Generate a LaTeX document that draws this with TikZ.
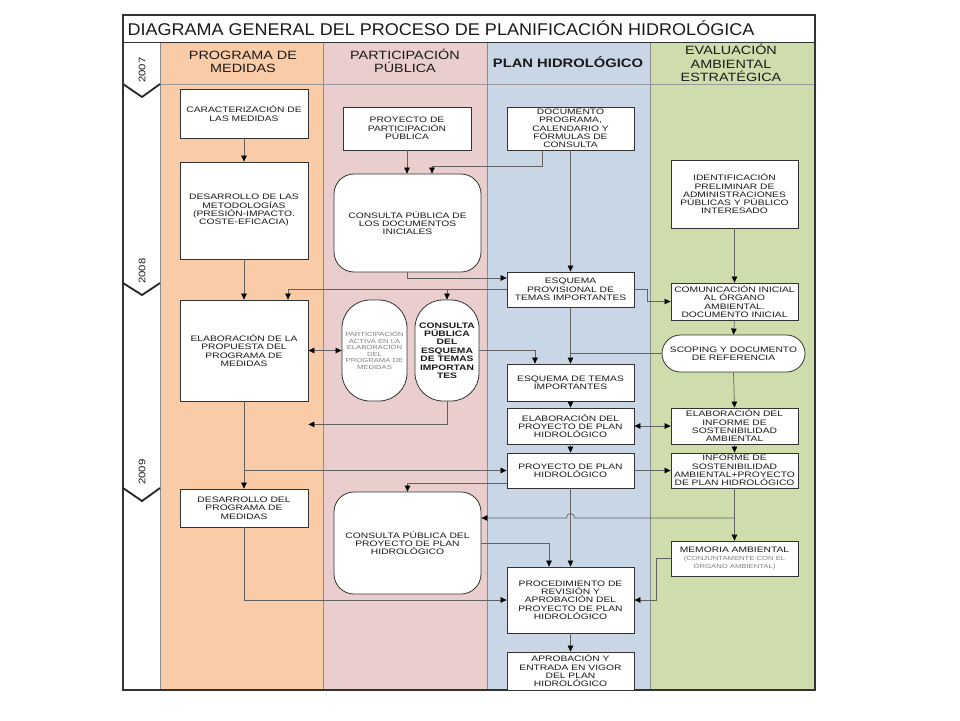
\documentclass[tikz,border=0pt]{standalone}
\usepackage{fontspec}
\setmainfont{Liberation Sans}
\newfontfamily\boxfont[FakeStretch=1.3]{Liberation Sans}
\newfontfamily\hdrfont[FakeStretch=1.2]{Liberation Sans}
\newfontfamily\ttlfont[FakeStretch=1.06]{Liberation Sans}
\usetikzlibrary{arrows.meta,calc}
\definecolor{cOr}{HTML}{F9CBA7}
\definecolor{cPk}{HTML}{EACECE}
\definecolor{cBl}{HTML}{C8D6E6}
\definecolor{cGr}{HTML}{CFDDAC}
\definecolor{cTx}{HTML}{1A1A1A}
\begin{document}
\begin{tikzpicture}[x=1pt,y=-1pt,
  box/.style={draw=black!80, fill=white, line width=0.8pt, align=center, text=cTx,
    font=\boxfont\fontsize{7.9}{8.3}\selectfont, inner sep=0pt},
  rbox/.style={box, rounded corners=20pt},
  can/.style={box, rounded corners=28pt},
  conn/.style={draw=black!62, line width=0.7pt},
  arr/.style={conn, -{Triangle[length=6pt,width=5.5pt,color=black]}},
  darr/.style={conn, {Triangle[length=6pt,width=5.5pt,color=black]}-{Triangle[length=6pt,width=5.5pt,color=black]}},
  hdr/.style={align=center, text=cTx, font=\hdrfont\fontsize{12}{13.5}\selectfont},
  yr/.style={rotate=90, text=cTx, font=\hdrfont\fontsize{9.5}{11}\selectfont},
  chev/.style={draw=black!85, line width=1.8pt}
]
\useasboundingbox (0,0) rectangle (960,720);
\fill[white] (0,0) rectangle (960,720);
% columns
\fill[cOr] (160,42) rectangle (323,690);
\fill[cPk] (323,42) rectangle (487,690);
\fill[cBl] (487,42) rectangle (650,690);
\fill[cGr] (650,42) rectangle (815,690);
\draw[black!45, line width=0.6pt] (160,42) -- (160,690) (323,42) -- (323,690) (487,42) -- (487,690) (650,42) -- (650,690);
\draw[black!40, line width=0.6pt] (160,84) -- (815,84);
\draw[black!80, line width=1pt] (123,42) -- (815,42);
\draw[black!80, line width=1.4pt] (123,15) rectangle (815,690);
% title and headers
\node[anchor=west, text=cTx, font=\ttlfont\fontsize{17}{20}\selectfont] (title) at (124,28.5) {DIAGRAMA GENERAL DEL PROCESO DE PLANIFICACIÓN HIDROLÓGICA};
\node[hdr] (h1) at (243,62) {PROGRAMA DE\\MEDIDAS};
\node[hdr] (h2) at (405,61) {PARTICIPACIÓN\\PÚBLICA};
\node[hdr, font=\hdrfont\bfseries\fontsize{12.3}{14.5}\selectfont] (h3) at (568,62) {PLAN HIDROLÓGICO};
\node[hdr] (h4) at (731,63) {EVALUACIÓN\\AMBIENTAL\\ESTRATÉGICA};
% years
\node[yr] (y7) at (142,70) {2007};
\node[yr] (y8) at (142,271) {2008};
\node[yr] (y9) at (142,472) {2009};
\draw[chev] (123,84) -- (142,97) -- (160,84);
\draw[chev] (123,283) -- (142,295) -- (160,283);
\draw[chev] (123,488) -- (142,501) -- (160,488);
% programa de medidas
\node[box, minimum width=128pt, minimum height=49pt] (car) at (244,113.5) {CARACTERIZACIÓN DE\\LAS MEDIDAS};
\node[box, minimum width=128pt, minimum height=97pt] (des) at (244,210.5) {DESARROLLO DE LAS\\METODOLOGÍAS\\(PRESIÓN-IMPACTO.\\COSTE-EFICACIA)};
\node[box, minimum width=128pt, minimum height=101pt] (ela) at (244,350.5) {ELABORACIÓN DE LA\\PROPUESTA DEL\\PROGRAMA DE\\MEDIDAS};
\node[box, minimum width=128pt, minimum height=38pt] (dpm) at (244,508) {DESARROLLO DEL\\PROGRAMA DE\\MEDIDAS};
% participacion publica
\node[box, minimum width=128pt, minimum height=43pt] (ppp) at (407,128.5) {PROYECTO DE\\PARTICIPACIÓN\\PÚBLICA};
\node[rbox, minimum width=147pt, minimum height=98pt] (cdi) at (407.5,223) {CONSULTA PÚBLICA DE\\LOS DOCUMENTOS\\INICIALES};
\node[can, minimum width=65pt, minimum height=101pt, text=black!50, font=\boxfont\fontsize{5.9}{6.6}\selectfont] (pa) at (374.5,350.5) {PARTICIPACIÓN\\ACTIVA EN LA\\ELABORACIÓN\\DEL\\PROGRAMA DE\\MEDIDAS};
\node[can, minimum width=64pt, minimum height=101pt, font=\boxfont\bfseries\fontsize{7.9}{8.4}\selectfont] (cesq) at (447,350.5) {CONSULTA\\PÚBLICA\\DEL\\ESQUEMA\\DE TEMAS\\IMPORTAN\\TES};
\node[rbox, minimum width=147pt, minimum height=102pt] (cpp) at (407.5,543) {CONSULTA PÚBLICA DEL\\PROYECTO DE PLAN\\HIDROLÓGICO};
% plan hidrologico
\node[box, minimum width=127pt, minimum height=43pt] (doc) at (570.5,128.5) {DOCUMENTO\\PROGRAMA,\\CALENDARIO Y\\FÓRMULAS DE\\CONSULTA};
\node[box, minimum width=127pt, minimum height=35pt] (epro) at (570.5,289.5) {ESQUEMA\\PROVISIONAL DE\\TEMAS IMPORTANTES};
\node[box, minimum width=127pt, minimum height=37pt] (etem) at (570.5,382.5) {ESQUEMA DE TEMAS\\IMPORTANTES};
\node[box, minimum width=127pt, minimum height=36pt] (elp) at (570.5,426) {ELABORACIÓN DEL\\PROYECTO DE PLAN\\HIDROLÓGICO};
\node[box, minimum width=127pt, minimum height=35pt] (pph) at (570.5,470.5) {PROYECTO DE PLAN\\HIDROLÓGICO};
\node[box, minimum width=127pt, minimum height=66pt] (proc) at (570.5,600) {PROCEDIMIENTO DE\\REVISIÓN Y\\APROBACIÓN DEL\\PROYECTO DE PLAN\\HIDROLÓGICO};
\node[box, minimum width=127pt, minimum height=38pt] (apr) at (570.5,671) {APROBACIÓN Y\\ENTRADA EN VIGOR\\DEL PLAN\\HIDROLÓGICO};
% evaluacion ambiental
\node[box, minimum width=127pt, minimum height=68pt] (ide) at (734.5,194) {IDENTIFICACIÓN\\PRELIMINAR DE\\ADMINISTRACIONES\\PÚBLICAS Y PÚBLICO\\INTERESADO};
\node[box, minimum width=127pt, minimum height=37pt] (com) at (734.5,301.5) {COMUNICACIÓN INICIAL\\AL ÓRGANO\\AMBIENTAL.\\DOCUMENTO INICIAL};
\node[box, rounded corners=18.5pt, minimum width=143pt, minimum height=37pt] (sco) at (733.5,353.5) {SCOPING Y DOCUMENTO\\DE REFERENCIA};
\node[box, minimum width=127pt, minimum height=36pt] (eis) at (734.5,426) {ELABORACIÓN DEL\\INFORME DE\\SOSTENIBILIDAD\\AMBIENTAL};
\node[box, minimum width=127pt, minimum height=35pt] (isp) at (734.5,470.5) {INFORME DE\\SOSTENIBILIDAD\\AMBIENTAL+PROYECTO\\DE PLAN HIDROLÓGICO};
\node[box, minimum width=127pt, minimum height=35pt] (mem) at (734.5,558.5) {MEMORIA AMBIENTAL\\[-1pt]{\color{black!50}\fontsize{5.9}{6.6}\selectfont (CONJUNTAMENTE CON EL}\\{\color{black!50}\fontsize{5.9}{6.6}\selectfont ÓRGANO AMBIENTAL)}};
% connectors: programa de medidas
\draw[arr] (car.south) -- (des.north);
\draw[arr] (des.south) -- (ela.north);
\draw[arr] (ela.south) -- (dpm.north);
\draw[arr] (ela.south |- pph.west) -- (pph.west);
\draw[arr] (dpm.south) |- (proc.west);
\draw[darr] (ela.east) -- (pa.west);
% participacion
\draw[arr] (ppp.south) -- (ppp.south |- cdi.north);
\draw[arr] ([xshift=-28.5pt]doc.south) -- ++(0,16) -| ([xshift=24.5pt]cdi.north);
\draw[arr] (cdi.south) |- ([yshift=11.5pt]epro.west);
\draw[arr] (epro.west) -| ([xshift=44pt]ela.north);
\draw[arr] (cesq.north |- epro.west) -- (cesq.north);
\draw[arr] (cesq.east) -| ([xshift=-35.5pt]etem.north);
\draw[arr] (cesq.south) -- ++(0,23) -- ([yshift=-23pt]ela.south east);
% plan hidrologico
\draw[arr] (doc.south) -- (epro.north);
\draw[arr] (epro.east) -- ++(13,0) |- (com.west);
\draw[arr] (epro.south) -- (etem.north);
\draw[conn] (sco.west) -- (sco.west -| etem.north);
\draw[arr] (etem.south) -- (elp.north);
\draw[darr] (elp.east) -- (eis.west);
\draw[arr] (elp.south) -- (pph.north);
\draw[arr] (pph.east) -- (isp.west);
\draw[arr] ([yshift=-12.5pt]pph.west) -| (cpp.north);
\draw[arr] (pph.south) -- (proc.north);
\draw[arr] (cpp.east) -| ([xshift=-21.5pt]proc.north);
\draw[arr] (proc.south) -- (apr.north);
% evaluacion ambiental
\draw[arr] (ide.south) -- (com.north);
\draw[arr] (com.south) -- (sco.north);
\draw[arr] (sco.south) -- (eis.north);
\draw[arr] (eis.south) -- (isp.north);
\draw[arr] (isp.south) -- (mem.north);
\coordinate (j1) at ([yshift=25pt]cpp.east);
\draw[arr] (isp.south |- j1) -- ($(pph.south |- j1)+(4,0)$) .. controls +(0,-6) and +(0,-6) .. ($(pph.south |- j1)+(-4,0)$) -- (j1);
\draw[arr] (mem.west) -- ++(-14,0) |- (proc.east);
\end{tikzpicture}
\end{document}
